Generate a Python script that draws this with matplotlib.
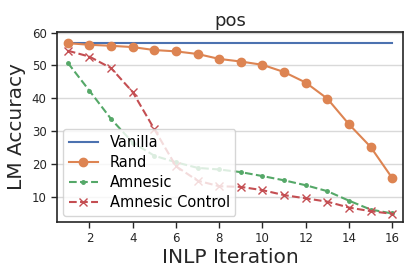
import matplotlib
matplotlib.use("Agg")
import matplotlib.pyplot as plt

iterations = list(range(1, 17))
vanilla = [57.0] * 16
rand = [56.8, 56.3, 56.0, 55.6, 54.7, 54.3, 53.5, 52.0, 51.2, 50.2, 48.0, 44.8, 39.9, 32.1, 25.2, 15.7]
amnesic = [50.8, 42.3, 33.7, 26.5, 22.5, 20.5, 18.8, 18.3, 17.5, 16.3, 15.0, 13.5, 11.7, 8.8, 6.1, 4.9]
amnesic_control = [54.5, 52.7, 49.2, 41.9, 30.6, 19.3, 14.9, 13.2, 13.0, 12.0, 10.5, 9.5, 8.5, 6.7, 5.6, 4.8]
xticks = [2, 4, 6, 8, 10, 12, 14, 16]
yticks = [10, 20, 30, 40, 50, 60]

plt.rcParams['font.family'] = ['DejaVu Sans']
fig = plt.figure(figsize=(4.15, 2.77), dpi=100)
ax = fig.add_axes([57/415, 1 - 222/277, (403-57)/415, (222-32)/277])

ax.plot(iterations, vanilla, color='#4C72B0', lw=1.5, label='Vanilla')
ax.plot(iterations, rand, color='#DD8452', lw=1.5, marker='o', ms=6, label='Rand')
ax.plot(iterations, amnesic, color='#55A868', lw=1.5, ls='--', marker='.', ms=5, label='Amnesic')
ax.plot(iterations, amnesic_control, color='#C44E52', lw=1.5, ls='--', marker='x', ms=6, label='Amnesic Control')

ax.set_xlim(0.5, 16.5)
ax.set_ylim(2.3, 60.2)
ax.set_xticks(xticks)
ax.set_yticks(yticks)
ax.yaxis.grid(True, color='#d9d9d9', lw=1)
ax.set_axisbelow(True)
for s in ax.spines.values():
    s.set_color('#262626')
    s.set_linewidth(1.2)
ax.tick_params(labelsize=8.5, colors='#262626', length=4, width=1)
ax.set_title('pos', fontsize=13, color='#262626', pad=4)
ax.set_xlabel('INLP Iteration', fontsize=14.5, color='#262626', labelpad=2)
ax.set_ylabel('LM Accuracy', fontsize=14.5, color='#262626', labelpad=4)
leg = ax.legend(loc='lower left', fontsize=10.5, framealpha=0.8, edgecolor='#cccccc',
                borderaxespad=0.4, handlelength=2.0, labelspacing=0.35)

fig.savefig('out.png', dpi=100)
